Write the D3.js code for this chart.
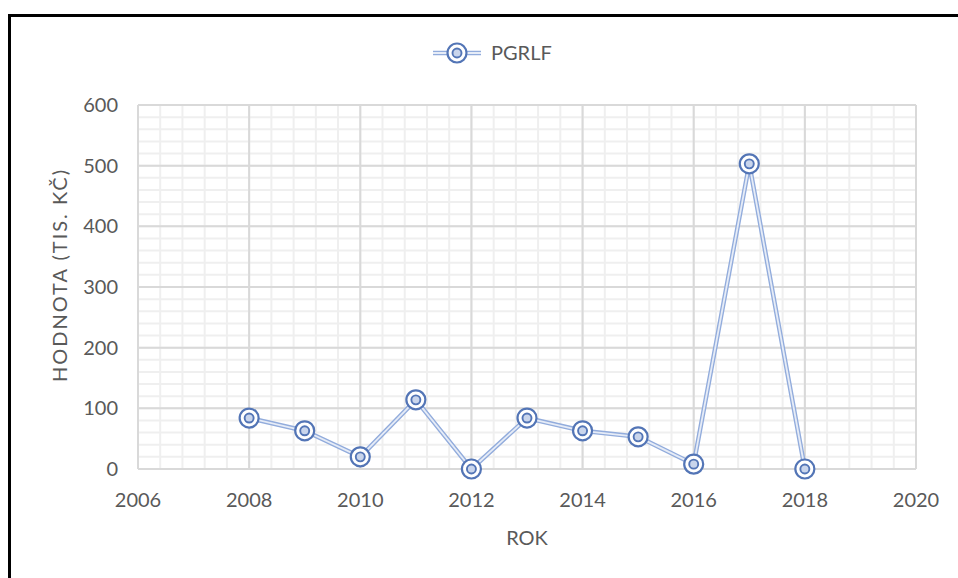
<!DOCTYPE html>
<html>
<head>
<meta charset="utf-8">
<script src="https://cdn.jsdelivr.net/npm/d3@7"></script>
<style>
  body { margin: 0; background: #fff; }
  text { font-family: Lato, "Open Sans", sans-serif; fill: #595959; }
</style>
</head>
<body>
<div id="chart"></div>
<script>
// values
var years = [2008, 2009, 2010, 2011, 2012, 2013, 2014, 2015, 2016, 2017, 2018];
var values = [84, 63, 20, 114, 0, 84, 63, 53, 8, 503, 0];
var xTicks = [2006, 2008, 2010, 2012, 2014, 2016, 2018, 2020];
var yTicks = [0, 100, 200, 300, 400, 500, 600];
var seriesName = 'PGRLF';

var w = 958, h = 578;
// plot box ("top" is taken by window.top, hence the prefix)
var pLeft = 138, pRight = 916, pTop = 105, pBottom = 469;

var svg = d3.select('#chart').append('svg')
  .attr('width', w)
  .attr('height', h);

// outer frame (only top and left visible)
svg.append('path')
  .attr('d', 'M9.5,' + h + 'V15.5H' + w)
  .attr('fill', 'none')
  .attr('stroke', '#000')
  .attr('stroke-width', 3);

var x = d3.scaleLinear().domain([2006, 2020]).range([pLeft, pRight]);
var y = d3.scaleLinear().domain([0, 600]).range([pBottom, pTop]);

// minor grid
var minorX = d3.range(2006, 2020.001, 0.4);
var minorY = d3.range(0, 600.001, 20);
var grid = svg.append('g');
grid.selectAll('.mx').data(minorX).enter().append('line')
  .attr('x1', function(d) { return x(d); }).attr('x2', function(d) { return x(d); })
  .attr('y1', pTop).attr('y2', pBottom)
  .attr('stroke', '#efefef').attr('stroke-width', 2);
grid.selectAll('.my').data(minorY).enter().append('line')
  .attr('y1', function(d) { return y(d); }).attr('y2', function(d) { return y(d); })
  .attr('x1', pLeft).attr('x2', pRight)
  .attr('stroke', '#efefef').attr('stroke-width', 2);

// major grid
grid.selectAll('.Mx').data(xTicks).enter().append('line')
  .attr('x1', function(d) { return x(d); }).attr('x2', function(d) { return x(d); })
  .attr('y1', pTop).attr('y2', pBottom)
  .attr('stroke', '#d9d9d9').attr('stroke-width', 2);
grid.selectAll('.My').data(yTicks).enter().append('line')
  .attr('y1', function(d) { return y(d); }).attr('y2', function(d) { return y(d); })
  .attr('x1', pLeft).attr('x2', pRight)
  .attr('stroke', '#d9d9d9').attr('stroke-width', 2);

// tick labels
svg.append('g').selectAll('text').data(yTicks).enter().append('text')
  .attr('x', pLeft - 20)
  .attr('y', function(d) { return y(d); })
  .attr('dy', '0.35em')
  .attr('text-anchor', 'end')
  .style('font-size', '20px')
  .text(function(d) { return d; });

svg.append('g').selectAll('text').data(xTicks).enter().append('text')
  .attr('x', function(d) { return x(d); })
  .attr('y', pBottom + 38)
  .attr('text-anchor', 'middle')
  .style('font-size', '20px')
  .text(function(d) { return d; });

// axis titles
svg.append('text')
  .attr('x', (pLeft + pRight) / 2)
  .attr('y', 545)
  .attr('text-anchor', 'middle')
  .style('font-size', '20px')
  .text('ROK');

svg.append('text')
  .attr('transform', 'translate(67,275) rotate(-90)')
  .attr('text-anchor', 'middle')
  .style('font-size', '20px')
  .style('letter-spacing', '2px')
  .text('HODNOTA (TIS. KČ)');

// series: double line
var pts = years.map(function(d, i) { return [d, values[i]]; });
var line = d3.line()
  .x(function(d) { return x(d[0]); })
  .y(function(d) { return y(d[1]); });

svg.append('path').datum(pts)
  .attr('d', line)
  .attr('fill', 'none')
  .attr('stroke', '#92acdc')
  .attr('stroke-width', 4.5)
  .attr('stroke-linejoin', 'round');
svg.append('path').datum(pts)
  .attr('d', line)
  .attr('fill', 'none')
  .attr('stroke', '#e6ecf7')
  .attr('stroke-width', 1.8)
  .attr('stroke-linejoin', 'round');

function drawMarker(g) {
  g.append('circle').attr('r', 9.5)
    .attr('fill', '#fff').attr('stroke', '#5375b6').attr('stroke-width', 2.2);
  g.append('circle').attr('r', 4.5)
    .attr('fill', '#c9d5ec').attr('stroke', '#5375b6').attr('stroke-width', 1.9);
}

var marks = svg.append('g').selectAll('g').data(pts).enter().append('g')
  .attr('transform', function(d) { return 'translate(' + x(d[0]) + ',' + y(d[1]) + ')'; });
marks.each(function() { drawMarker(d3.select(this)); });

// legend
var lg = svg.append('g').attr('transform', 'translate(457,53)');
lg.append('line').attr('x1', -24).attr('x2', 24)
  .attr('stroke', '#92acdc').attr('stroke-width', 4.5);
lg.append('line').attr('x1', -24).attr('x2', 24)
  .attr('stroke', '#e6ecf7').attr('stroke-width', 1.8);
drawMarker(lg);
lg.append('text')
  .attr('x', 34)
  .attr('dy', '0.35em')
  .style('font-size', '20px')
  .text(seriesName);
</script>
</body>
</html>
